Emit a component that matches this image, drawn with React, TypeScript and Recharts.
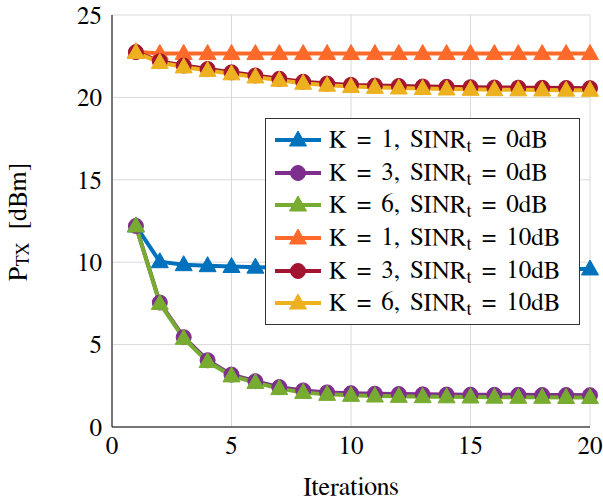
import React from "react";
import { LineChart, Line, XAxis, YAxis, CartesianGrid } from "recharts";

const iterations = [1, 2, 3, 4, 5, 6, 7, 8, 9, 10, 11, 12, 13, 14, 15, 16, 17, 18, 19, 20];
const k1_0dB = [12.2, 10.03, 9.85, 9.79, 9.74, 9.7, 9.68, 9.66, 9.65, 9.64, 9.63, 9.62, 9.62, 9.61, 9.61, 9.6, 9.6, 9.59, 9.59, 9.59];
const k3_0dB = [12.2, 7.55, 5.45, 4.05, 3.18, 2.78, 2.42, 2.22, 2.1, 2.05, 2.02, 2.0, 1.98, 1.97, 1.96, 1.95, 1.95, 1.94, 1.94, 1.93];
const k6_0dB = [12.2, 7.5, 5.38, 3.97, 3.1, 2.7, 2.33, 2.1, 1.98, 1.92, 1.88, 1.86, 1.84, 1.83, 1.82, 1.81, 1.8, 1.8, 1.79, 1.79];
const k1_10dB = [22.77, 22.67, 22.67, 22.66, 22.66, 22.66, 22.66, 22.66, 22.66, 22.66, 22.66, 22.66, 22.66, 22.66, 22.66, 22.66, 22.66, 22.66, 22.66, 22.66];
const k3_10dB = [22.75, 22.2, 21.93, 21.72, 21.52, 21.33, 21.13, 20.95, 20.84, 20.76, 20.72, 20.69, 20.66, 20.64, 20.62, 20.6, 20.59, 20.58, 20.57, 20.56];
const k6_10dB = [22.72, 22.12, 21.85, 21.63, 21.43, 21.24, 21.04, 20.86, 20.74, 20.66, 20.61, 20.57, 20.54, 20.51, 20.49, 20.47, 20.46, 20.45, 20.44, 20.43];

const xTicks = [0, 5, 10, 15, 20];
const yTicks = [0, 5, 10, 15, 20, 25];

const seriesKeys = ["k1_0dB", "k3_0dB", "k6_0dB", "k1_10dB", "k3_10dB", "k6_10dB"];
const seriesK = ["1", "3", "6", "1", "3", "6"];
const seriesSinr = ["0dB", "0dB", "0dB", "10dB", "10dB", "10dB"];
const seriesColors = ["#0072BD", "#7E2F8E", "#77AC30", "#FF6A2A", "#A2142F", "#EDB120"];
const seriesMarkers = ["triangle", "circle", "triangle", "triangle", "circle", "triangle"];
const seriesValues = [k1_0dB, k3_0dB, k6_0dB, k1_10dB, k3_10dB, k6_10dB];

const data = iterations.map((it, i) => {
  const row: any = { it };
  seriesKeys.forEach((k, j) => {
    row[k] = seriesValues[j][i];
  });
  return row;
});

const FONT = "\"Nimbus Roman\", \"FreeSerif\", \"Liberation Serif\", serif";
const FS = 25;
const LFS = 26;

function Marker({ cx, cy, color, kind }: any) {
  if (cx == null || cy == null) return null;
  if (kind === "circle") {
    return <circle cx={cx} cy={cy} r={7.5} fill={color} stroke={color} strokeWidth={1} />;
  }
  const pts = `${cx},${cy - 9} ${cx - 8.5},${cy + 6} ${cx + 8.5},${cy + 6}`;
  return <polygon points={pts} fill={color} stroke={color} strokeWidth={1} strokeLinejoin="round" />;
}

function LegendBox() {
  return (
    <div
      style={{
        position: "absolute",
        left: 265,
        top: 118,
        width: 315,
        height: 207,
        border: "1px solid #333",
        background: "#fff",
        padding: "5px 0 0 0",
        boxSizing: "border-box",
        fontFamily: FONT,
        fontSize: 25,
        color: "#000",
      }}
    >
      {seriesKeys.map((k, i) => (
        <div key={k} style={{ display: "flex", alignItems: "center", height: 32.6 }}>
          <svg width={50} height={24} style={{ marginLeft: 8, flex: "none" }}>
            <line x1={1} y1={12} x2={47} y2={12} stroke={seriesColors[i]} strokeWidth={4} />
            <Marker cx={24} cy={12} color={seriesColors[i]} kind={seriesMarkers[i]} />
          </svg>
          <span style={{ whiteSpace: "nowrap", marginLeft: 5, wordSpacing: 4, lineHeight: "26px" }}>
            K = {seriesK[i]}, SINR
            <sub style={{ fontSize: 18, verticalAlign: "-5px", lineHeight: 0 }}>t</sub> = {seriesSinr[i]}
          </span>
        </div>
      ))}
    </div>
  );
}

function YLabel() {
  const cx = 18;
  const cy = 222;
  return (
    <text
      x={cx}
      y={cy}
      transform={`rotate(-90, ${cx}, ${cy})`}
      textAnchor="middle"
      dominantBaseline="central"
      fontFamily={FONT}
      fontSize={LFS}
      fill="#000"
    >
      P<tspan fontSize={18} dy={5}>TX</tspan>
      <tspan dy={-5}>{"\u00a0\u00a0[dBm]"}</tspan>
    </text>
  );
}

export default function App() {
  return (
    <div style={{ position: "absolute", left: 0, top: 0, width: 603, height: 499, background: "#fff" }}>
      <LineChart
        width={603}
        height={499}
        data={data}
        margin={{ top: 15, right: 13, bottom: 0, left: 0 }}
      >
        <CartesianGrid stroke="#d9d9d9" strokeWidth={1} />
        <XAxis
          dataKey="it"
          type="number"
          domain={[0, 20]}
          ticks={xTicks}
          height={72}
          axisLine={{ stroke: "#000", strokeWidth: 1 }}
          tickLine={false}
          tickMargin={3}
          tick={{ fontFamily: FONT, fontSize: FS, fill: "#000" }}
          label={{
            value: "Iterations",
            position: "insideBottom",
            offset: 4,
            style: { fontFamily: FONT, fontSize: LFS, fill: "#000" },
          }}
        />
        <YAxis
          type="number"
          domain={[0, 25]}
          ticks={yTicks}
          width={112}
          axisLine={{ stroke: "#000", strokeWidth: 1 }}
          tickLine={false}
          tickMargin={4}
          tick={{ fontFamily: FONT, fontSize: FS, fill: "#000" }}
          label={<YLabel />}
        />
        {seriesKeys.map((k, i) => (
          <Line
            key={k}
            dataKey={k}
            type="linear"
            stroke={seriesColors[i]}
            strokeWidth={4}
            isAnimationActive={false}
            dot={(p: any) => (
              <Marker key={`${k}-${p.index}`} cx={p.cx} cy={p.cy} color={seriesColors[i]} kind={seriesMarkers[i]} />
            )}
            activeDot={false}
          />
        ))}
      </LineChart>
      <LegendBox />
    </div>
  );
}
